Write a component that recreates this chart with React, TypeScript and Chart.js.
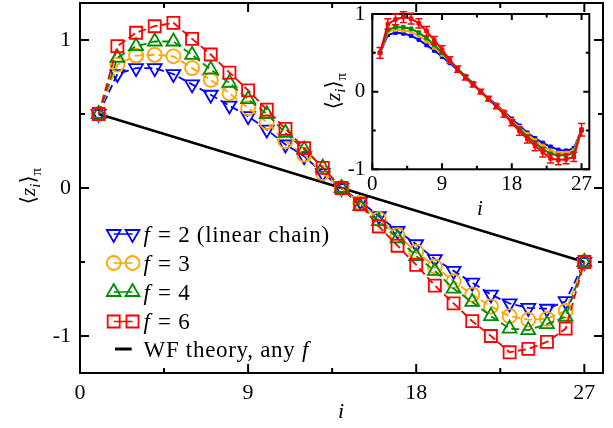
import React, { useEffect, useRef } from 'react';
import { Chart, registerables } from 'chart.js';

Chart.register(...registerables);

const FONT = "'Liberation Serif', 'DejaVu Serif', 'DejaVu Sans', serif";

// ---- data ----
const sites = [1, 2, 3, 4, 5, 6, 7, 8, 9, 10, 11, 12, 13, 14, 15, 16, 17, 18, 19, 20, 21, 22, 23, 24, 25, 26, 27];

const zF2 = [0.5, 0.77, 0.81, 0.81, 0.77, 0.70, 0.63, 0.557, 0.485, 0.395, 0.294, 0.215, 0.10, 0.0, -0.09, -0.19, -0.29, -0.38, -0.48, -0.56, -0.64, -0.72, -0.78, -0.81, -0.816, -0.765, -0.5];
const zF3 = [0.5, 0.834, 0.895, 0.90, 0.89, 0.81, 0.73, 0.64, 0.54, 0.445, 0.316, 0.226, 0.10, 0.0, -0.10, -0.21, -0.32, -0.43, -0.53, -0.63, -0.72, -0.80, -0.866, -0.89, -0.884, -0.83, -0.5];
const zF4 = [0.5, 0.88, 0.958, 0.99, 0.99, 0.90, 0.80, 0.71, 0.60, 0.50, 0.373, 0.26, 0.138, 0.0, -0.123, -0.224, -0.34, -0.46, -0.56, -0.68, -0.77, -0.866, -0.95, -0.96, -0.92, -0.87, -0.5];
const zF6 = [0.5, 0.958, 1.049, 1.093, 1.116, 1.008, 0.902, 0.78, 0.66, 0.53, 0.40, 0.27, 0.136, 0.0, -0.11, -0.26, -0.39, -0.52, -0.66, -0.78, -0.90, -1.0, -1.11, -1.087, -1.04, -0.95, -0.5];

const wfSites = [1, 27];
const wfValues = [0.5, -0.5];

const insetF2 = [0.5, 0.73, 0.76, 0.75, 0.72, 0.67, 0.60, 0.53, 0.45, 0.37, 0.28, 0.20, 0.11, 0.0, -0.09, -0.17, -0.26, -0.35, -0.44, -0.53, -0.60, -0.66, -0.71, -0.75, -0.76, -0.73, -0.49];
const insetF3 = [0.5, 0.77, 0.80, 0.79, 0.77, 0.72, 0.65, 0.57, 0.48, 0.39, 0.29, 0.20, 0.10, 0.0, -0.10, -0.18, -0.27, -0.37, -0.46, -0.55, -0.63, -0.70, -0.76, -0.79, -0.79, -0.76, -0.49];
const insetF4 = [0.5, 0.80, 0.83, 0.83, 0.81, 0.76, 0.69, 0.60, 0.50, 0.40, 0.30, 0.20, 0.10, 0.0, -0.10, -0.19, -0.29, -0.39, -0.48, -0.58, -0.66, -0.74, -0.80, -0.82, -0.82, -0.79, -0.50];
const insetF6 = [0.5, 0.87, 0.93, 0.96, 0.94, 0.88, 0.78, 0.66, 0.54, 0.41, 0.29, 0.18, 0.09, 0.0, -0.09, -0.19, -0.29, -0.40, -0.51, -0.61, -0.70, -0.78, -0.86, -0.88, -0.87, -0.84, -0.49];
const insetF6Err = [0.07, 0.07, 0.07, 0.07, 0.07, 0.06, 0.06, 0.05, 0.05, 0.04, 0.04, 0.03, 0.03, 0.03, 0.03, 0.03, 0.04, 0.04, 0.05, 0.05, 0.06, 0.06, 0.06, 0.06, 0.06, 0.06, 0.08];

const xTickValues = [0, 4.5, 9, 13.5, 18, 22.5, 27];
const xLabelledTicks = [0, 9, 18, 27];
const yTickValues = [-1, -0.5, 0, 0.5, 1];
const yLabelledTicks = [-1, 0, 1];

const seriesNames = ['= 2 (linear chain)', '= 3', '= 4', '= 6'];
const wfName = 'WF theory, any ';

const COLORS = ['#0000ff', '#ffa500', '#008c00', '#ff0000'];
const MARKERS = ['triDown', 'circle', 'triUp', 'rect'];

const toPts = (ys: number[]) => ys.map((v, k) => ({ x: sites[k], y: v }));

// ---- helpers ----
function drawMarker(ctx: CanvasRenderingContext2D, style: string, x: number, y: number, r: number, color: string, lw: number) {
  const s60 = Math.sin(Math.PI / 3);
  ctx.save();
  ctx.strokeStyle = color;
  ctx.lineWidth = lw;
  ctx.beginPath();
  if (style === 'circle') ctx.arc(x, y, r, 0, Math.PI * 2);
  else if (style === 'triDown') {
    ctx.moveTo(x - r * s60, y - r / 2);
    ctx.lineTo(x + r * s60, y - r / 2);
    ctx.lineTo(x, y + r);
    ctx.closePath();
  } else if (style === 'triUp') {
    ctx.moveTo(x, y - r);
    ctx.lineTo(x + r * s60, y + r / 2);
    ctx.lineTo(x - r * s60, y + r / 2);
    ctx.closePath();
  } else {
    const s = r * Math.SQRT1_2;
    ctx.rect(x - s, y - s, 2 * s, 2 * s);
  }
  ctx.stroke();
  ctx.restore();
}

function drawMathLabel(ctx: CanvasRenderingContext2D, cx: number, cy: number, size: number) {
  const sub = Math.round(size * 0.7);
  const pieces = [
    { t: '\u27E8', f: `${size}px ${FONT}`, dy: 0 },
    { t: 'z', f: `italic ${size}px ${FONT}`, dy: 0 },
    { t: 'i', f: `italic ${sub}px ${FONT}`, dy: size * 0.22 },
    { t: '\u27E9', f: `${size}px ${FONT}`, dy: 0 },
    { t: '\u03C0', f: `${sub}px ${FONT}`, dy: size * 0.3 },
  ];
  ctx.save();
  ctx.translate(cx, cy);
  ctx.rotate(-Math.PI / 2);
  ctx.fillStyle = '#000';
  ctx.textBaseline = 'alphabetic';
  let w = 0;
  const ws = pieces.map((p) => {
    ctx.font = p.f;
    const m = ctx.measureText(p.t).width;
    w += m;
    return m;
  });
  let x = -w / 2;
  pieces.forEach((p, k) => {
    ctx.font = p.f;
    ctx.fillText(p.t, x, p.dy);
    x += ws[k];
  });
  ctx.restore();
}

function makeFramePlugin(lw: number, major: number, minor: number) {
  return {
    id: 'frameTicks',
    afterDatasetsDraw(chart: any) {
      const { ctx, chartArea: a } = chart;
      const xs = chart.scales.x;
      const ys = chart.scales.y;
      ctx.save();
      ctx.strokeStyle = '#000';
      ctx.lineWidth = lw;
      ctx.beginPath();
      xs.ticks.forEach((t: any) => {
        const px = xs.getPixelForValue(t.value);
        const L = xLabelledTicks.includes(t.value) ? major : minor;
        ctx.moveTo(px, a.bottom);
        ctx.lineTo(px, a.bottom - L);
        ctx.moveTo(px, a.top);
        ctx.lineTo(px, a.top + L);
      });
      ys.ticks.forEach((t: any) => {
        const py = ys.getPixelForValue(t.value);
        const L = yLabelledTicks.includes(t.value) ? major : minor;
        ctx.moveTo(a.left, py);
        ctx.lineTo(a.left + L, py);
        ctx.moveTo(a.right, py);
        ctx.lineTo(a.right - L, py);
      });
      ctx.stroke();
      ctx.strokeRect(a.left, a.top, a.right - a.left, a.bottom - a.top);
      ctx.restore();
    },
  };
}

const LEG_FONT = 23;

const mainDecor = {
  id: 'mainDecor',
  afterDraw(chart: any) {
    const ctx: any = chart.ctx;
    // axis titles
    drawMathLabel(ctx, 35, 186, 21);
    ctx.save();
    ctx.fillStyle = '#000';
    ctx.font = `italic 22px ${FONT}`;
    ctx.textAlign = 'center';
    ctx.fillText('i', 341, 418);
    ctx.restore();

    // legend
    const rowY = [234, 263, 292, 321.5];
    const x1 = 113.7;
    const x2 = 132.5;
    const tx = 143.5;
    const radii = [8, 7, 8, 8.5];
    rowY.forEach((y, k) => {
      ctx.save();
      ctx.strokeStyle = COLORS[k];
      ctx.lineWidth = 1.5;
      ctx.beginPath();
      ctx.moveTo(x1, y);
      ctx.lineTo(x2, y);
      ctx.stroke();
      ctx.restore();
      drawMarker(ctx, MARKERS[k], x1, y, radii[k], COLORS[k], 1.8);
      drawMarker(ctx, MARKERS[k], x2, y, radii[k], COLORS[k], 1.8);
      ctx.save();
      ctx.fillStyle = '#000';
      ctx.textBaseline = 'alphabetic';
      ctx.letterSpacing = '0.7px';
      ctx.font = `italic ${LEG_FONT}px ${FONT}`;
      ctx.fillText('f', tx, y + 7.5);
      const fw = ctx.measureText('f').width;
      ctx.font = `${LEG_FONT}px ${FONT}`;
      ctx.fillText(' ' + seriesNames[k], tx + fw + 1, y + 7.5);
      ctx.restore();
    });
    ctx.save();
    ctx.strokeStyle = '#000';
    ctx.lineWidth = 3;
    ctx.beginPath();
    ctx.moveTo(115, 349);
    ctx.lineTo(131.7, 349);
    ctx.stroke();
    ctx.fillStyle = '#000';
    ctx.letterSpacing = '0.7px';
    ctx.font = `${LEG_FONT}px ${FONT}`;
    ctx.fillText(wfName, tx, 357);
    const ww = ctx.measureText(wfName).width;
    ctx.font = `italic ${LEG_FONT}px ${FONT}`;
    ctx.fillText('f', tx + ww, 357);
    ctx.restore();
  },
};

const insetDecor = {
  id: 'insetDecor',
  afterDatasetsDraw(chart: any) {
    const ctx: CanvasRenderingContext2D = chart.ctx;
    const xs = chart.scales.x;
    const ys = chart.scales.y;
    chart.data.datasets.forEach((ds: any) => {
      const errs: number[] | undefined = ds.errors;
      if (!errs) return;
      ctx.save();
      ctx.strokeStyle = ds.borderColor;
      ctx.lineWidth = 1.5;
      ctx.beginPath();
      ds.data.forEach((p: any, k: number) => {
        const px = xs.getPixelForValue(p.x);
        const y1 = ys.getPixelForValue(p.y - errs[k]);
        const y2 = ys.getPixelForValue(p.y + errs[k]);
        ctx.moveTo(px, y1);
        ctx.lineTo(px, y2);
        ctx.moveTo(px - 3.5, y1);
        ctx.lineTo(px + 3.5, y1);
        ctx.moveTo(px - 3.5, y2);
        ctx.lineTo(px + 3.5, y2);
      });
      ctx.stroke();
      ctx.restore();
    });
  },
  afterDraw(chart: any) {
    const ctx: CanvasRenderingContext2D = chart.ctx;
    drawMathLabel(ctx, 40, 91, 21);
    ctx.save();
    ctx.fillStyle = '#000';
    ctx.font = `italic 21px ${FONT}`;
    ctx.textAlign = 'center';
    ctx.fillText('i', 180, 215);
    ctx.restore();
  },
};

function axisCommon(kind: 'x' | 'y', size: number, pad: number, fit: number, min: number, max: number) {
  const ticksVals = kind === 'x' ? xTickValues : yTickValues;
  const labelled = kind === 'x' ? xLabelledTicks : yLabelledTicks;
  return {
    type: 'linear' as const,
    min,
    max,
    afterBuildTicks: (s: any) => {
      s.ticks = ticksVals.map((v) => ({ value: v }));
    },
    afterFit: (s: any) => {
      if (kind === 'x') s.height = fit;
      else s.width = fit;
      s.paddingTop = 0;
      s.paddingBottom = 0;
      s.paddingLeft = 0;
      s.paddingRight = 0;
    },
    grid: { display: false, drawTicks: false },
    border: { display: false },
    ticks: {
      autoSkip: false,
      maxRotation: 0,
      padding: pad,
      color: '#000',
      font: { family: FONT, size },
      callback: (v: any) => (labelled.includes(Number(v)) ? String(v) : ''),
    },
  };
}

export default function App() {
  const mainRef = useRef<HTMLCanvasElement | null>(null);
  const insetRef = useRef<HTMLCanvasElement | null>(null);

  useEffect(() => {
    if (!mainRef.current || !insetRef.current) return;
    const mainSeries = [zF2, zF3, zF4, zF6];
    const pointStyles = ['triangle', 'circle', 'triangle', 'rect'];
    const rotations = [180, 0, 0, 0];
    const radii = [8, 7, 8, 8.5];
    const orders = [4, 3, 2, 1];

    const mainDatasets: any[] = mainSeries.map((ys, k) => ({
      data: toPts(ys),
      borderColor: COLORS[k],
      borderWidth: 1.8,
      borderDash: [8, 4],
      pointStyle: pointStyles[k],
      pointRotation: rotations[k],
      pointRadius: radii[k],
      pointBorderWidth: 1.8,
      pointBorderColor: COLORS[k],
      pointBackgroundColor: 'rgba(0,0,0,0)',
      order: orders[k],
      tension: 0,
    }));
    mainDatasets.push({
      data: wfSites.map((x, k) => ({ x, y: wfValues[k] })),
      borderColor: '#000',
      borderWidth: 2.5,
      pointRadius: 0,
      order: 5,
    });

    const main = new Chart(mainRef.current, {
      type: 'line',
      data: { datasets: mainDatasets },
      options: {
        responsive: false,
        animation: false,
        events: [],
        layout: { autoPadding: false, padding: { top: 3, right: 10, left: 0, bottom: 0 } },
        scales: {
          x: axisCommon('x', 22, 7, 55, 0, 28) as any,
          y: axisCommon('y', 22, 9, 80, -1.25, 1.25) as any,
        },
        plugins: { legend: { display: false }, tooltip: { enabled: false } },
      },
      plugins: [makeFramePlugin(2, 9, 5), mainDecor],
    });

    const insetSeries = [insetF2, insetF3, insetF4, insetF6];
    const insetDatasets: any[] = insetSeries.map((ys, k) => ({
      data: toPts(ys),
      borderColor: COLORS[k],
      borderWidth: 2,
      pointStyle: 'rect',
      pointRadius: 2.5,
      pointBorderWidth: 1,
      pointBorderColor: COLORS[k],
      pointBackgroundColor: COLORS[k],
      order: orders[k],
      errors: k === 3 ? insetF6Err : undefined,
    }));

    const inset = new Chart(insetRef.current, {
      type: 'line',
      data: { datasets: insetDatasets },
      options: {
        responsive: false,
        animation: false,
        events: [],
        layout: { autoPadding: false, padding: { top: 14, right: 23.7, left: 0, bottom: 0 } },
        scales: {
          x: axisCommon('x', 21, 3, 60.7, 0, 28) as any,
          y: axisCommon('y', 21, 7, 72.3, -1, 1) as any,
        },
        plugins: { legend: { display: false }, tooltip: { enabled: false } },
      },
      plugins: [makeFramePlugin(2, 6, 3.5), insetDecor],
    });

    return () => {
      main.destroy();
      inset.destroy();
    };
  }, []);

  return (
    <div style={{ position: 'fixed', left: 0, top: 0, width: 613, height: 428, background: '#fff' }}>
      <canvas ref={mainRef} width={613} height={428} style={{ position: 'absolute', left: 0, top: 0 }} />
      <canvas ref={insetRef} width={313} height={230} style={{ position: 'absolute', left: 300, top: 0 }} />
    </div>
  );
}
